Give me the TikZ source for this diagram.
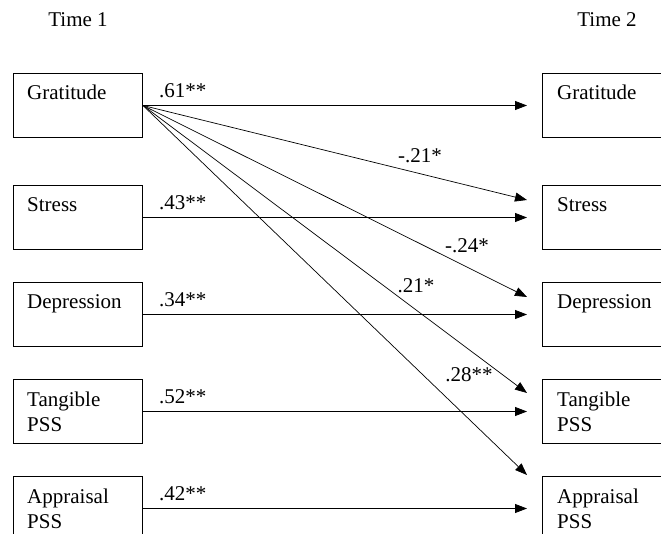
\documentclass[tikz,border=0pt]{standalone}
\usepackage{fontspec}
\setmainfont{Liberation Serif}
\usetikzlibrary{positioning,arrows.meta}

\begin{document}
\begin{tikzpicture}[x=1pt, y=-1pt, node distance = 32pt and 399pt]
            \tikzstyle{var} = [draw, line width=1pt, minimum width=129pt, minimum height=64pt, inner sep=0pt];
            \tikzstyle{vartext} = [font=\fontsize{21}{25}\selectfont, align=left, inner sep=0pt, anchor=base west];
            \tikzstyle{coef} = [font=\fontsize{21}{25}\selectfont, inner sep=0pt];
            \tikzstyle{effect} = [-{Triangle[length=12pt, width=9pt]}, line width=0.8pt, shorten >=15pt];
            \useasboundingbox (0,0) rectangle (661,534);
            \clip (0,0) rectangle (661,534);

            % time 1
            \node [var, anchor=north west] (G1) at (13,73) {};
            \node [var, below = 47pt of G1] (S1) {};
            \node [var, below = of S1] (D1) {};
            \node [var, below = of D1] (T1) {};
            \node [var, below = of T1] (A1) {};

            % time 2
            \node [var, right = of G1] (G2) {};
            \node [var, right = of S1] (S2) {};
            \node [var, right = of D1] (D2) {};
            \node [var, right = of T1] (T2) {};
            \node [var, right = of A1] (A2) {};

            \node [coef, anchor=base, above = 46pt of G1] (time1) {Time 1};
            \node [coef, anchor=base, above = 46pt of G2] (time2) {Time 2};

            % base of a two-line label is its last line
            \foreach \b/\t/\ys in {G/Gratitude/27, S/Stress/27, D/Depression/27, T/{Tangible\\PSS}/52, A/{Appraisal\\PSS}/52} {
                \node [vartext] (txt\b1) at ([xshift=14pt, yshift=-\ys pt]\b1.north west) {\t};
                \node [vartext] (txt\b2) at ([xshift=15pt, yshift=-\ys pt]\b2.north west) {\t};
            }

            % stability paths
            \foreach \b/\c in {G/.61**, S/.43**, D/.34**, T/.52**, A/.42**} {
                \draw [effect] (\b1) -- (\b2);
                \node [coef, anchor=base west] (c\b) at ([xshift=16pt, yshift=8pt]\b1.east) {\c};
            }

            % cross-lagged paths from gratitude
            \foreach \b/\dy in {S/-15, D/-15, T/-14, A/1} {
                \coordinate (in\b) at ([xshift=-15pt, yshift=\dy pt]\b2.north west);
                \draw [effect, line width=0.7pt, shorten >=0pt] (G1.east) -- (in\b);
            }

            \node [coef] (xS) at (420,156) {-.21*};
            \node [coef] (xD) at (467,246) {-.24*};
            \node [coef] (xT) at (416,286) {.21*};
            \node [coef] (xA) at (469,375) {.28**};
        \end{tikzpicture}
\end{document}
